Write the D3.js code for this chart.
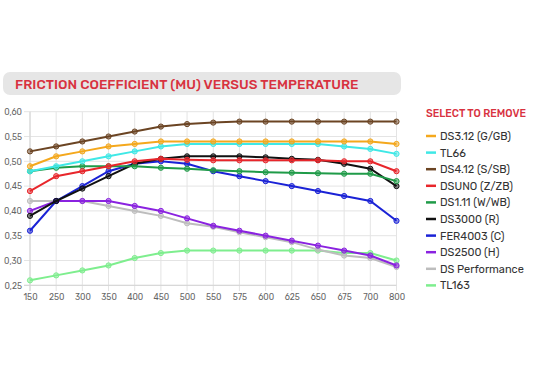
<!DOCTYPE html>
<html><head><meta charset="utf-8">
<script src="https://cdn.jsdelivr.net/npm/d3@7/dist/d3.min.js"></script>
<style>
html,body{margin:0;padding:0;background:#fff;}
svg{display:block;font-family:Rubik,Inter,Roboto,"DejaVu Sans",sans-serif;}
</style></head><body>
<svg id="c" width="552" height="376"></svg>
<script>
const categories = ["150","250","300","350","400","450","500","550","575","600","625","650","675","700","800"];
const yTicks = [0.25,0.30,0.35,0.40,0.45,0.50,0.55,0.60];
const seriesNames = ["DS3.12 (G/GB)","TL66","DS4.12 (S/SB)","DSUNO (Z/ZB)","DS1.11 (W/WB)","DS3000 (R)","FER4003 (C)","DS2500 (H)","DS Performance","TL163"];
const seriesColors = ["#f4a81d","#3fe8e6","#6b4423","#e8262b","#1f9b48","#111111","#1a22d6","#8a22e0","#bdbdbd","#7eee8e"];
const ds312 = [0.49,0.51,0.52,0.53,0.535,0.54,0.54,0.54,0.54,0.54,0.54,0.54,0.54,0.54,0.535];
const tl66  = [0.48,0.49,0.50,0.51,0.52,0.53,0.535,0.535,0.535,0.535,0.535,0.535,0.53,0.525,0.515];
const ds412 = [0.52,0.53,0.54,0.55,0.56,0.57,0.575,0.578,0.58,0.58,0.58,0.58,0.58,0.58,0.58];
const dsuno = [0.44,0.47,0.48,0.49,0.50,0.505,0.503,0.502,0.502,0.502,0.502,0.502,0.50,0.50,0.48];
const ds111 = [0.48,0.487,0.49,0.49,0.49,0.487,0.485,0.482,0.48,0.478,0.477,0.476,0.475,0.475,0.46];
const ds3000 = [0.39,0.42,0.445,0.47,0.495,0.505,0.51,0.51,0.51,0.508,0.505,0.503,0.495,0.485,0.45];
const fer4003 = [0.36,0.42,0.45,0.48,0.495,0.50,0.495,0.48,0.47,0.46,0.45,0.44,0.43,0.42,0.38];
const ds2500 = [0.40,0.42,0.42,0.42,0.41,0.40,0.385,0.37,0.36,0.35,0.34,0.33,0.32,0.31,0.29];
const dsPerf = [0.42,0.42,0.42,0.41,0.40,0.39,0.375,0.368,0.357,0.347,0.337,0.322,0.31,0.305,0.287];
const tl163 = [0.26,0.27,0.28,0.29,0.305,0.315,0.32,0.32,0.32,0.32,0.32,0.32,0.315,0.315,0.30];
const seriesValues = [ds312,tl66,ds412,dsuno,ds111,ds3000,fer4003,ds2500,dsPerf,tl163];

const svg = d3.select("#c");
// title bar
svg.append("rect").attr("x",3).attr("y",72).attr("width",398).attr("height",23).attr("rx",7).attr("fill","#e6e6e6");
svg.append("text").attr("x",15).attr("y",89).attr("fill","#d8323f").attr("font-size",13.6).attr("font-weight",500)
  .text("FRICTION COEFFICIENT (MU) VERSUS TEMPERATURE");

const x = d3.scalePoint().domain(categories).range([30,396.5]).padding(0);
const y = d3.scaleLinear().domain([0.25,0.60]).range([285.3,111.7]);

const g = svg.append("g");
// grid
g.selectAll(".hg").data(yTicks).join("line").attr("x1",24).attr("x2",396.5)
  .attr("y1",d=>y(d)).attr("y2",d=>y(d)).attr("stroke","#e4e4e4").attr("stroke-width",1);
g.selectAll(".vg").data(categories).join("line").attr("x1",d=>x(d)).attr("x2",d=>x(d))
  .attr("y1",111.7).attr("y2",291).attr("stroke","#e4e4e4").attr("stroke-width",1);
g.append("line").attr("x1",30).attr("x2",30).attr("y1",111.7).attr("y2",291).attr("stroke","#d4d4d4");
g.append("line").attr("x1",24).attr("x2",396.5).attr("y1",285.3).attr("y2",285.3).attr("stroke","#d4d4d4");

// axes labels via d3 axes
const yAxis = d3.axisLeft(y).tickValues(yTicks).tickSize(0).tickPadding(8).tickFormat(d=>d3.format(".2f")(d).replace(".",","));
const ya = svg.append("g").attr("transform","translate(30,0)").call(yAxis);
const xAxis = d3.axisBottom(x).tickSize(0).tickPadding(9);
const xa = svg.append("g").attr("transform","translate(0,285.3)").call(xAxis);
[ya,xa].forEach(a=>{a.select(".domain").remove();a.selectAll("text").attr("fill","#666").attr("font-size",8.5).attr("font-family","Rubik,Inter,Roboto,sans-serif");});

// series (first on top)
const line = d3.line().x((d,i)=>x(categories[i])).y(d=>y(d));
for (let s = seriesValues.length-1; s>=0; s--) {
  const col = seriesColors[s];
  const sg = svg.append("g");
  sg.append("path").datum(seriesValues[s]).attr("d",line).attr("fill","none").attr("stroke",col).attr("stroke-width",2);
  sg.selectAll("circle").data(seriesValues[s]).join("circle").attr("cx",(d,i)=>x(categories[i])).attr("cy",d=>y(d))
    .attr("r",2.6).attr("fill",col).attr("fill-opacity",0.5).attr("stroke",col).attr("stroke-width",1);
}

// legend
svg.append("text").attr("x",426).attr("y",117).attr("fill","#d8323f").attr("font-size",10.5).attr("font-weight",500).text("SELECT TO REMOVE");
const lg = svg.append("g");
seriesNames.forEach((n,i)=>{
  const yy = 136 + i*16.6;
  lg.append("line").attr("x1",426).attr("x2",436).attr("y1",yy).attr("y2",yy).attr("stroke",seriesColors[i]).attr("stroke-width",2.5);
  lg.append("text").attr("x",440).attr("y",yy+4).attr("fill","#333").attr("font-size",11).text(n);
});
</script></body></html>
